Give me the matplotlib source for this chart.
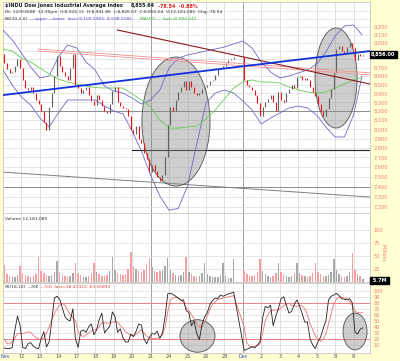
import numpy as np
import matplotlib
matplotlib.use('Agg')
import matplotlib.pyplot as plt
from matplotlib.patches import Ellipse

# ---------------- data ----------------
day_labels = ['Nov', '12', '13', '14', '17', '18', '19', '20', '21', '24', '25',
              '26', '28', 'Dec', '2', '3', '4', '5', '8', '9']

first_open = 8870
# hourly closes per trading day
closes = [
    [8760, 8680, 8640, 8650, 8720, 8800, 8694],
    [8560, 8460, 8440, 8470, 8400, 8330, 8283],
    [8200, 8080, 7990, 8250, 8400, 8600, 8835],
    [8720, 8650, 8600, 8560, 8700, 8860, 8497],
    [8460, 8400, 8440, 8480, 8380, 8320, 8273],
    [8380, 8330, 8260, 8200, 8180, 8280, 8424],
    [8480, 8300, 8260, 8240, 8220, 8150, 7997],
    [7950, 8040, 7900, 7850, 7750, 7680, 7552],
    [7620, 7560, 7500, 7460, 7520, 7700, 8046],
    [8250, 8200, 8330, 8420, 8480, 8540, 8443],
    [8550, 8480, 8400, 8380, 8410, 8450, 8479],
    [8500, 8540, 8560, 8620, 8680, 8700, 8726],
    [8760, 8790, 8800, 8829],
    [8560, 8500, 8480, 8440, 8380, 8290, 8149],
    [8250, 8300, 8340, 8380, 8300, 8200, 8419],
    [8330, 8300, 8400, 8450, 8500, 8460, 8591],
    [8600, 8560, 8580, 8560, 8480, 8420, 8376],
    [8280, 8200, 8150, 8230, 8350, 8450, 8635],
    [8920, 8960, 8900, 8880, 8950, 9000, 8934],
    [8790, 8860, 8840, 8856],
]
# volume in millions
volumes = [
    [33, 16, 12, 10, 9, 14, 31],
    [18, 14, 11, 10, 12, 16, 48],
    [22, 18, 14, 12, 14, 20, 41],
    [20, 14, 12, 10, 12, 18, 36],
    [18, 14, 10, 9, 11, 16, 36],
    [20, 15, 12, 11, 14, 22, 49],
    [24, 18, 15, 14, 16, 26, 58],
    [30, 26, 22, 20, 24, 32, 46],
    [28, 22, 20, 22, 24, 30, 46],
    [24, 18, 14, 12, 14, 20, 49],
    [20, 15, 12, 10, 12, 18, 36],
    [16, 12, 10, 9, 10, 14, 37],
    [12, 8, 7, 45],
    [22, 16, 12, 11, 13, 20, 45],
    [22, 16, 12, 10, 12, 18, 37],
    [20, 14, 12, 10, 12, 18, 37],
    [18, 14, 11, 10, 12, 17, 36],
    [20, 16, 12, 11, 13, 20, 44],
    [24, 16, 12, 10, 12, 20, 56],
    [24, 16, 12, 5.7],
]
stoch_k = [
    [5, 4, 4, 6, 35, 58, 42],
    [6, 4, 12, 14, 8, 5, 4],
    [21, 32, 7, 15, 50, 88, 91],
    [86, 72, 57, 52, 50, 70, 20],
    [6, 33, 35, 31, 40, 45, 27],
    [35, 52, 63, 30, 36, 41, 65],
    [57, 31, 37, 22, 15, 15, 28],
    [24, 33, 45, 43, 20, 12, 22],
    [29, 28, 33, 21, 30, 57, 95],
    [96, 94, 91, 88, 84, 85, 67],
    [64, 42, 50, 29, 19, 44, 57],
    [64, 77, 84, 88, 87, 93, 91],
    [93, 95, 96, 98],
    [1, 3, 5, 7, 5, 10, 15],
    [55, 74, 72, 76, 42, 58, 71],
    [87, 90, 76, 63, 66, 77, 85],
    [75, 62, 48, 48, 20, 10, 4],
    [16, 23, 38, 50, 85, 91, 93],
    [96, 92, 87, 86, 85, 87, 80],
    [32, 28, 36, 38.47],
]
stoch_d = [
    [20, 12, 12, 15, 22, 29, 29],
    [29, 30, 32, 31, 26, 22, 20],
    [19, 22, 30, 40, 52, 62, 70],
    [76, 79, 76, 68, 60, 55, 50],
    [32, 26, 24, 27, 30, 33, 35],
    [36, 40, 47, 47, 46, 47, 48],
    [49, 48, 42, 38, 32, 29, 26],
    [25, 28, 32, 35, 30, 25, 22],
    [21, 21, 21, 23, 27, 40, 65],
    [85, 88, 89, 88, 86, 80, 72],
    [67, 60, 54, 45, 40, 40, 48],
    [58, 70, 78, 82, 85, 87, 88],
    [89, 90, 91, 92],
    [40, 14, 8, 7, 8, 9, 12],
    [30, 50, 60, 67, 68, 68, 68],
    [72, 75, 78, 79, 76, 75, 74],
    [76, 75, 70, 60, 45, 35, 25],
    [20, 16, 20, 29, 45, 62, 78],
    [86, 90, 89, 88, 87, 82, 76],
    [66, 64, 63.5, 63.51],
]
# overlays sampled every half day (day index)
ov_t = [0, 0.5, 1, 1.5, 2, 2.5, 3, 3.5, 4, 4.5, 5, 5.5, 6, 6.5, 7, 7.5, 8, 8.5,
        9, 9.5, 10, 10.5, 11, 11.5, 12, 12.5, 13, 13.5, 14, 14.5, 15, 15.5, 16,
        16.5, 17, 17.5, 18, 18.5, 19, 19.45]
bb_upper = [9159, 9035, 8876, 8709, 8579, 8602, 8828, 8974, 8937, 8768, 8673,
            8486, 8428, 8405, 8348, 8280, 8326, 8440, 8697, 8816, 8852, 8876,
            8900, 8925, 8949, 8987, 9023, 8937, 8768, 8650, 8579, 8602, 8638,
            8673, 8745, 8888, 9084, 9209, 9221, 9100.6]
bb_lower = [8673, 8497, 8360, 8269, 8124, 8025, 8180, 8326, 8326, 8326, 8326,
            8258, 8202, 8169, 7981, 7767, 7517, 7305, 7164, 7183, 7405, 7841,
            8292, 8405, 8440, 8405, 8315, 8213, 8058, 8124, 8180, 8236, 8258,
            8236, 8157, 8025, 7917, 7917, 8157, 8598.0]
ma50 = [8925, 8900, 8816, 8768, 8697, 8626, 8567, 8532, 8509, 8486, 8468, 8463,
        8463, 8463, 8394, 8326, 8247, 8102, 8014, 8014, 8025, 8036, 8113, 8213,
        8337, 8463, 8532, 8556, 8532, 8532, 8521, 8474, 8440, 8417, 8405, 8417,
        8463, 8509, 8556, 8584.6]

# hand-drawn annotations (day index, price)
blue_trend = [(0, 8382), (19.89, 8900)]
darkred_trend = [(6.2, 9159), (19.89, 8509)]
pink_trend_a = [(1.9, 8925), (19.89, 8640)]
pink_trend_b = [(1.9, 8900), (19.89, 8615)]
gray_slope = [(0, 7547), (19.89, 7295)]
support_black = [(6.99, 7780), (19.89, 7780)]
hlines_gray = [8200, 7400]
# ellipses: (t_left, t_right, top, bottom)
ellipses_main = [(7.53, 11.22, 8828, 7405), (16.91, 19.19, 9184, 8014)]
ellipses_stoch = [(9.59, 11.49, 52, -2), (18.43, 19.73, 63, 2)]

# ---------------- build ----------------
t, c, v, k, dd = [], [], [], [], []
for d in range(len(closes)):
    for j in range(len(closes[d])):
        t.append(d + (j + 0.5) / 7)
        c.append(closes[d][j]); v.append(volumes[d][j])
        k.append(stoch_k[d][j]); dd.append(stoch_d[d][j])
t = np.array(t); c = np.array(c, float); v = np.array(v, float)
o = np.concatenate([[first_open], c[:-1]])

W, H = 400, 361
BG = '#FFFFD2'
LAB = '#F07878'
fig = plt.figure(figsize=(W / 100, H / 100), dpi=100, facecolor=BG)

def axes_px(l, tp, r, b):
    a = fig.add_axes([l / W, 1 - b / H, (r - l) / W, (b - tp) / H])
    a.set_facecolor('white')
    for s in a.spines.values():
        s.set_color('#C8C8C8'); s.set_linewidth(0.6)
    a.tick_params(length=0, labelsize=3.6, labelcolor=LAB, pad=2.5)
    a.yaxis.tick_right()
    return a

XMAX = 19.89
ax = axes_px(3, 2, 370, 213)
axv = axes_px(3, 213, 370, 282)
axs = axes_px(3, 283, 370, 353)

for a in (ax, axv, axs):
    a.set_xlim(0, XMAX)
    a.set_xticks([])
    for d in range(1, 20):
        col = '#909090' if d in (8, 13) else '#D8D8D8'
        a.axvline(d, color=col, lw=0.6, zorder=0)

def add_ell(a, tl, tr, top, bot):
    tf = a.transScale + a.transLimits
    x0, y0 = tf.transform((tl, bot))
    x1, y1 = tf.transform((tr, top))
    e = Ellipse(((x0 + x1) / 2, (y0 + y1) / 2), x1 - x0, y1 - y0,
                transform=a.transAxes, facecolor=(0.55, 0.55, 0.55, 0.42),
                edgecolor='#505050', lw=0.6, zorder=2)
    a.add_patch(e)

# ----- main price panel -----
ax.set_yscale('log')
ax.set_ylim(7138, 9515)
for lev in range(7200, 9500, 100):
    ax.axhline(lev, color='#DCDCDC', lw=0.5, zorder=0)
for lev in hlines_gray:
    ax.axhline(lev, color='#8C8C8C', lw=0.7, zorder=1)
yt = [l for l in range(7200, 9300, 100) if l not in (8800, 8900)]
ax.set_yticks(yt)
ax.set_yticklabels([f'{l:,}' for l in yt])
ax.yaxis.set_minor_locator(matplotlib.ticker.NullLocator())

ax.plot(*zip(*gray_slope), color='#808080', lw=0.7, zorder=1)
ax.plot(*zip(*support_black), color='#202020', lw=0.8, zorder=1)
for (tl, tr, pt, pb) in ellipses_main:
    add_ell(ax, tl, tr, pt, pb)

ax.plot(ov_t, bb_upper, color='#6A6AC8', lw=0.6, zorder=3)
ax.plot(ov_t, bb_lower, color='#6A6AC8', lw=0.6, zorder=3)
ax.plot(ov_t, ma50, color='#66CC55', lw=0.6, zorder=3)

up = c >= o
ax.vlines(t[up], np.minimum(o, c)[up], np.maximum(o, c)[up], color='#606060', lw=0.8, zorder=4)
ax.vlines(t[~up], np.minimum(o, c)[~up], np.maximum(o, c)[~up], color='#EE1111', lw=0.8, zorder=4)

ax.plot(*zip(*pink_trend_a), color='#F09090', lw=0.6, zorder=5)
ax.plot(*zip(*pink_trend_b), color='#F09090', lw=0.6, zorder=5)
ax.plot(*zip(*darkred_trend), color='#8B1A1A', lw=0.8, zorder=5)
ax.plot(*zip(*blue_trend), color='#1030E0', lw=1.3, zorder=5)

# last price box
ax.text(1.003, (np.log(c[-1]) - np.log(7138)) / (np.log(9515) - np.log(7138)),
        f'{c[-1]:,.2f}', transform=ax.transAxes, fontsize=3.6, color='white',
        fontweight='bold', va='center', ha='left',
        bbox=dict(boxstyle='square,pad=0.25', fc='black', ec='black'), zorder=10,
        clip_on=False)

# header
fig.text(5 / W, 1 - 6 / H, '$INDU Dow Jones Industrial Average Index', fontsize=3.5,
         fontweight='bold', color='#202020', va='center')
fig.text(131 / W, 1 - 6 / H, '8,855.64', fontsize=3.5, fontweight='bold', color='#202020', va='center')
fig.text(158 / W, 1 - 6 / H, '-78.54  -0.88%', fontsize=3.5, fontweight='bold', color='#E02020', va='center')
fig.text(5 / W, 1 - 12.5 / H, 'Dt: 12/9/2008  12:30pm  O:8,925.11  H:8,941.86  L:8,826.67  C:8,855.64  V:12,181,085  Chg:-78.54',
         fontsize=3.2, color='#303030', va='center')
fig.text(5 / W, 1 - 19 / H, 'BB(20,2.0)', fontsize=3.2, color='#303030', va='center')
fig.text(30 / W, 1 - 19 / H, '\u2014upper \u2014lower  last=9,100.5965; 8,598.0185', fontsize=3.2,
         color='#4848D0', va='center')
fig.text(140 / W, 1 - 19 / H, 'MA(50) \u2014 last=8,584.642', fontsize=3.2, color='#30B030', va='center')

# ----- volume panel -----
axv.set_ylim(0, 133)
for lev in (25, 50, 75, 100):
    axv.axhline(lev, color='#DCDCDC', lw=0.5, zorder=0)
axv.set_yticks([25, 50, 75, 100])
axv.set_yticklabels(['25', '50', '75', '100'])
vcol = np.where(c < o, '#F4A0A0', '#A8A8A8')
axv.bar(t, v, width=0.55 / 7, color=vcol, zorder=3)
fig.text(5 / W, 1 - 218.5 / H, 'Volume 12,181,085', fontsize=3.2, color='#303030', va='center')
fig.text(383 / W, 1 - 253 / H, 'Millions', fontsize=3.4, color=LAB, rotation=270, va='center', ha='center')
fig.text(371 / W, 1 - 280 / H, ' 5.7M ', fontsize=3.6, color='white', fontweight='bold',
         va='center', ha='left', bbox=dict(boxstyle='square,pad=0.2', fc='black', ec='black'))

# ----- stochastics panel -----
axs.set_ylim(-3.3, 113)
for lev in range(10, 101, 10):
    axs.axhline(lev, color='#DCDCDC', lw=0.5, zorder=0)
axs.axhline(80, color='#F08080', lw=0.7, zorder=1)
axs.axhline(20, color='#F08080', lw=0.7, zorder=1)
axs.set_yticks(list(range(10, 101, 10)))
axs.set_yticklabels([str(x) for x in range(10, 101, 10)])
for (tl, tr, top, bot) in ellipses_stoch:
    add_ell(axs, tl, tr, top, bot)
axs.plot(t, dd, color='#F07070', lw=0.6, zorder=3)
axs.plot(t, k, color='#202020', lw=0.6, zorder=4)
fig.text(5 / W, 1 - 287.5 / H, 'SS(18,10)', fontsize=3.2, color='#303030', va='center')
fig.text(28 / W, 1 - 287.5 / H, '\u2014%K', fontsize=3.2, color='#202020', va='center')
fig.text(40 / W, 1 - 287.5 / H, '\u2014%D  last=38.47412; 63.50893', fontsize=3.2, color='#E04040', va='center')

# x labels
for d, lab in enumerate(day_labels):
    x = 3 + 18.45 * d
    colr = '#3050D0' if lab in ('Nov', 'Dec') else '#505050'
    fig.text(max(x, 5) / W, 1 - 357 / H, lab, fontsize=3.5, color=colr, ha='center', va='center')

fig.savefig('out.png', dpi=100, facecolor=BG)
